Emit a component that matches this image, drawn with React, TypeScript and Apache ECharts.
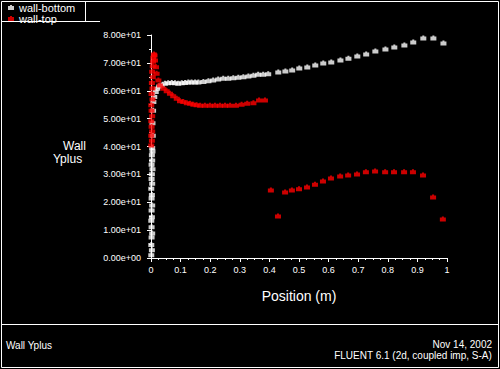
import React, { useEffect, useRef } from "react";
import * as echarts from "echarts";

const seriesNames = ["wall-bottom", "wall-top"];

const xTicks = [0, 0.1, 0.2, 0.3, 0.4, 0.5, 0.6, 0.7, 0.8, 0.9, 1];
const yTickLabels = ["0.00e+00", "1.00e+01", "2.00e+01", "3.00e+01", "4.00e+01", "5.00e+01", "6.00e+01", "7.00e+01", "8.00e+01"];

// wall-bottom (white)
const bottomX = [
  0.001, 0.003, 0.001, 0.002, 0.004, 0.002, 0.001, 0.003, 0.002, 0.004,
  0.002, 0.003, 0.001, 0.004, 0.002, 0.003, 0.005, 0.002, 0.004, 0.003,
  0.005, 0.004, 0.006, 0.005, 0.007,
  0.008, 0.011, 0.016, 0.021, 0.028, 0.036, 0.047, 0.058, 0.07, 0.081,
  0.092, 0.104, 0.115, 0.126, 0.137, 0.149, 0.16, 0.177, 0.194, 0.21,
  0.227, 0.244, 0.261, 0.278, 0.295, 0.312, 0.329, 0.346, 0.362, 0.379,
  0.396, 0.43, 0.454, 0.477, 0.501, 0.528, 0.555, 0.582, 0.609, 0.64,
  0.667, 0.697, 0.727, 0.758, 0.792, 0.822, 0.856, 0.886, 0.92, 0.954, 0.988,
];
const bottomY = [
  1.2, 3.0, 4.8, 7.5, 9.0, 11.2, 13.5, 14.8, 17.2, 19.0,
  21.5, 22.8, 25.0, 26.8, 28.5, 30.2, 32.0, 33.6, 35.2, 37.0,
  38.4, 39.6, 44.0, 48.5, 53.0,
  56.1, 57.9, 59.7, 60.9, 61.7, 62.1, 62.7, 62.9, 63.0, 62.9,
  62.7, 62.9, 63.0, 63.1, 63.1, 63.1, 63.1, 63.3, 63.6, 63.9,
  64.2, 64.5, 64.5, 64.7, 64.8, 65.0, 65.3, 65.6, 65.9, 65.9,
  66.1, 66.7, 67.1, 67.4, 68.2, 68.5, 69.2, 70.0, 70.3, 71.0,
  71.7, 72.5, 73.2, 74.3, 75.0, 75.7, 76.4, 77.5, 78.9, 78.9, 77.1,
];

// wall-top (red)
const topX = [
  0.001, 0.003, 0.001, 0.004, 0.002, 0.001, 0.004, 0.002, 0.001, 0.005,
  0.002, 0.005, 0.003, 0.006, 0.004, 0.006, 0.007, 0.008, 0.01, 0.012,
  0.0135, 0.017, 0.019, 0.025, 0.03, 0.042, 0.053, 0.064, 0.075, 0.087,
  0.098, 0.109, 0.121, 0.132, 0.143, 0.154, 0.166, 0.182, 0.199, 0.216,
  0.233, 0.25, 0.267, 0.287, 0.306, 0.325, 0.346, 0.365, 0.385,
  0.405, 0.429, 0.453, 0.476, 0.5, 0.527, 0.554, 0.581, 0.608, 0.639,
  0.666, 0.696, 0.726, 0.757, 0.791, 0.821, 0.855, 0.885, 0.919, 0.953, 0.986,
];
const topY = [
  40.5, 42.2, 44.0, 45.6, 47.3, 49.2, 51.0, 53.0, 55.0, 57.0,
  59.0, 61.0, 63.0, 65.0, 67.0, 69.0, 70.6, 72.0, 73.2, 72.8,
  71.0, 68.6, 66.3, 63.9, 62.1, 60.9, 60.0, 59.1, 58.2, 57.3,
  56.4, 56.1, 55.7, 55.5, 55.2, 55.0, 54.8, 54.8, 54.8, 54.8,
  54.8, 54.8, 54.8, 54.8, 55.2, 55.5, 55.7, 56.7, 56.7,
  24.4, 15.1, 23.7, 24.4, 24.8, 25.5, 26.5, 27.6, 28.7, 29.4,
  29.8, 30.1, 30.9, 31.2, 30.9, 30.9, 30.9, 30.9, 29.8, 21.9, 14.0,
];

const footerLeft = "Wall Yplus";
const footerDate = "Nov 14, 2002";
const footerSolver = "FLUENT 6.1 (2d, coupled imp, S-A)";

const MARK = "path://M2,0H4V1H6V5H0V1H2Z";
const FONT = "'Liberation Sans', Arial, sans-serif";

export default function App() {
  const ref = useRef<HTMLDivElement>(null);
  useEffect(() => {
    document.body.style.margin = "0";
    document.body.style.background = "#000";
    const chart = echarts.init(ref.current!, null, { renderer: "svg" });
    const bottomData = bottomX.map((x, i) => [x, bottomY[i]]);
    const topData = topX.map((x, i) => [x, topY[i]]);
    chart.setOption({
      animation: false,
      backgroundColor: "#000",
      textStyle: { fontFamily: FONT },
      grid: { left: 151, right: 53, top: 35, bottom: 111, containLabel: false },
      legend: {
        show: true,
        data: seriesNames,
        orient: "vertical",
        left: 8,
        top: 2,
        itemWidth: 6,
        itemHeight: 5,
        itemGap: 0,
        padding: 0,
        icon: MARK,
        textStyle: { color: "#fff", fontSize: 11, lineHeight: 8, fontFamily: FONT },
        selectedMode: false,
      },
      xAxis: {
        type: "value",
        min: 0,
        max: 1,
        interval: 0.1,
        name: "Position (m)",
        nameLocation: "middle",
        nameGap: 31,
        nameTextStyle: { color: "#fff", fontSize: 14, fontFamily: FONT },
        axisLine: { show: true, lineStyle: { color: "#fff", width: 1 } },
        axisTick: { show: true, length: 4, lineStyle: { color: "#fff" } },
        minorTick: { show: true, splitNumber: 4, length: 2, lineStyle: { color: "#fff" } },
        splitLine: { show: false },
        axisLabel: {
          color: "#fff",
          fontSize: 9,
          margin: 7,
          formatter: (v: number) => {
            const i = xTicks.findIndex((t) => Math.abs(t - v) < 1e-6);
            return i >= 0 ? String(xTicks[i]) : "";
          },
        },
      },
      yAxis: {
        type: "value",
        min: 0,
        max: 80,
        interval: 10,
        axisLine: { show: true, onZero: false, lineStyle: { color: "#fff", width: 1 } },
        axisTick: { show: true, length: 4, lineStyle: { color: "#fff" } },
        minorTick: { show: true, splitNumber: 2, length: 2, lineStyle: { color: "#fff" } },
        splitLine: { show: false },
        axisLabel: {
          color: "#fff",
          fontSize: 9,
          margin: 10,
          formatter: (v: number) => yTickLabels[Math.round(v / 10)] ?? "",
        },
      },
      series: [
        {
          name: seriesNames[0],
          type: "scatter",
          data: bottomData,
          symbol: MARK,
          symbolSize: [6, 5],
          itemStyle: { color: "#fff" },
        },
        {
          name: seriesNames[1],
          type: "scatter",
          data: topData,
          symbol: MARK,
          symbolSize: [6, 5],
          itemStyle: { color: "#ff0000" },
        },
      ],
      graphic: [
        {
          type: "rect",
          shape: { x: 1.5, y: 1.5, width: 497, height: 366 },
          style: { fill: "none", stroke: "#fff", lineWidth: 1 },
          silent: true,
        },
        {
          type: "line",
          shape: { x1: 1, y1: 324.5, x2: 498, y2: 324.5 },
          style: { stroke: "#fff", lineWidth: 1 },
        },
        {
          type: "line",
          shape: { x1: 85.5, y1: 1, x2: 85.5, y2: 21.5 },
          style: { stroke: "#fff", lineWidth: 1 },
        },
        {
          type: "line",
          shape: { x1: 1, y1: 21.5, x2: 100, y2: 21.5 },
          style: { stroke: "#fff", lineWidth: 1 },
        },
        {
          type: "text",
          left: 63,
          top: 140,
          style: { text: "Wall", fill: "#fff", font: `12px ${FONT}`, lineHeight: 12 },
        },
        {
          type: "text",
          left: 53,
          top: 153,
          style: { text: "Yplus", fill: "#fff", font: `12px ${FONT}`, lineHeight: 12 },
        },
        {
          type: "text",
          left: 6,
          top: 340,
          style: { text: footerLeft, fill: "#fff", font: `10px ${FONT}` },
        },
        {
          type: "text",
          right: 8,
          top: 339,
          style: { text: footerDate, fill: "#fff", font: `10px ${FONT}`, align: "right" },
        },
        {
          type: "text",
          right: 8,
          top: 350,
          style: { text: footerSolver, fill: "#fff", font: `10px ${FONT}`, align: "right" },
        },
      ],
    });
    return () => chart.dispose();
  }, []);
  return <div ref={ref} style={{ width: 500, height: 369 }} />;
}
